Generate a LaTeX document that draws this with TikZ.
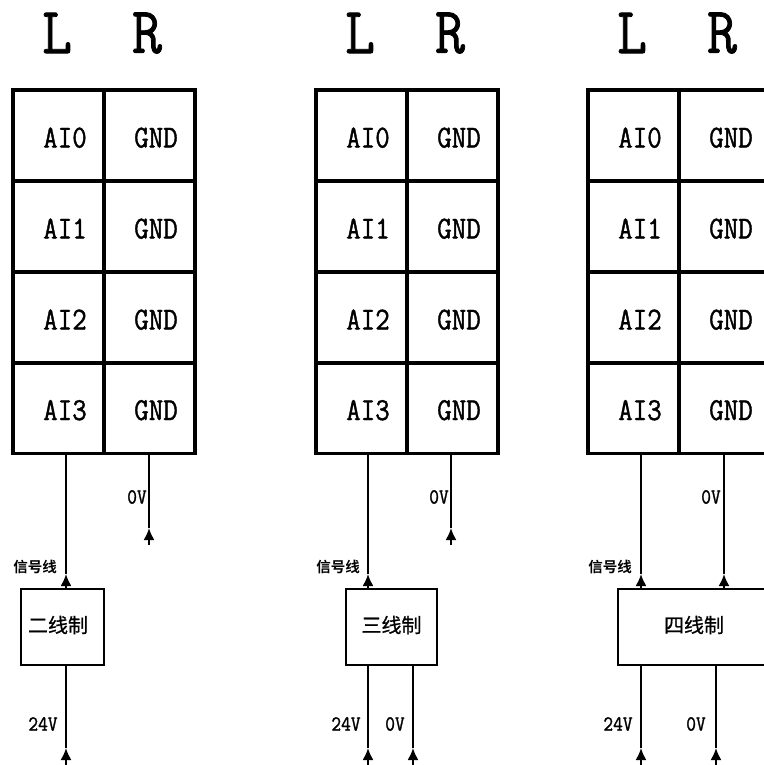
\documentclass[tikz,border=0pt]{standalone}
\usepackage{fontspec}
\setmonofont{Latin Modern Mono}[FakeBold=1.2, FakeStretch=0.88]
\newfontfamily\cjk{Noto Sans CJK SC}[BoldFont={Noto Sans CJK SC Bold}]
\newfontfamily\cjkbox{Noto Sans CJK SC}[FakeBold=0.7]
\usetikzlibrary{positioning,arrows.meta}

\tikzset{
    cell/.style={draw, line width=3.6pt, minimum width=91pt, minimum height=91pt, inner sep=0pt, outer sep=0pt,
        text height=24pt, text depth=0pt,
        font=\ttfamily\fontsize{32}{32}\selectfont, execute at begin node=\hspace*{13pt}},
    head/.style={font=\ttfamily\fontsize{66}{66}\selectfont, inner sep=0pt},
    volt/.style={font=\ttfamily\fontsize{21.5}{21.5}\selectfont, inner sep=0pt},
    sig/.style={font=\cjk\bfseries\fontsize{14.5}{14.5}\selectfont, inner sep=0pt},
    wirebox/.style={draw, line width=2pt, minimum height=76pt, inner sep=0pt, outer sep=0pt,
        text height=15pt, text depth=3.8pt,
        font=\cjkbox\fontsize{20}{20}\selectfont},
    wire/.style={line width=2pt}
}

\begin{document}
\begin{tikzpicture}[x=1pt, y=-1pt, >={Latex[length=12pt,width=11pt]}]
\useasboundingbox (0,0) rectangle (763,765);

% the three terminal blocks
\foreach \g/\x in {a/13, b/316, c/588} {
    \node[head] (L\g) at (\x+44,33) {L};
    \node[head] (R\g) at (\x+134,33) {R};
    \foreach \r/\y in {0/135.5, 1/226.5, 2/317.5, 3/408} {
        \node[cell] (AI\g\r) at (\x+45.5,\y) {AI\r};
        \node[cell] (GND\g\r) [right=0pt of AI\g\r] {GND};
    }
}

% transmitter boxes
\node[wirebox, minimum width=83pt] (boxa) at (62.5,627) {\hspace*{-9pt}二线制};
\node[wirebox, minimum width=91pt] (boxb) at (391.5,627) {三线制};
\node[wirebox, minimum width=152pt] (boxc) at (694,627) {四线制};

% arrow tips and free ends
\coordinate (siga) at (66,574);  \coordinate (sigb) at (368,574);  \coordinate (sigc) at (641,574);
\coordinate (zeroc) at (724,574);
\coordinate (tipa) at (149,528); \coordinate (enda) at (149,545);
\coordinate (tipb) at (451,528); \coordinate (endb) at (451,545);
\coordinate (pa) at (66,748);    \coordinate (pae) at (66,765);
\coordinate (pb) at (368,748);   \coordinate (pbe) at (368,765);
\coordinate (pc) at (641,748);   \coordinate (pce) at (641,765);
\coordinate (qb) at (413,748);   \coordinate (qbe) at (413,765);
\coordinate (qc) at (716,748);   \coordinate (qce) at (716,765);

% signal wires
\foreach \t/\g in {siga/a, sigb/b, sigc/c} {
    \draw[wire,->] (box\g.north -| \t) -- (\t);
    \draw[wire] (\t) -- (AI\g3.south -| \t);
}
\draw[wire,->] (boxc.north -| zeroc) -- (zeroc);
\draw[wire] (zeroc) -- (GNDc3.south -| zeroc);

% loose 0V wires
\foreach \t/\e/\g in {tipa/enda/a, tipb/endb/b} {
    \draw[wire,->] (\e) -- (\t);
    \draw[wire] (\t) -- (GND\g3.south -| \t);
}

% supply wires
\foreach \t/\e/\g in {pa/pae/a, pb/pbe/b, pc/pce/c, qb/qbe/b, qc/qce/c} {
    \draw[wire,->] (\e) -- (\t);
    \draw[wire] (\t) -- (box\g.south -| \t);
}

\node[sig] (xa) at (35,567) {信号线};
\node[sig] (xb) at (338,567) {信号线};
\node[sig] (xc) at (610,567) {信号线};

\node[volt] (va) at (137,497) {0V};
\node[volt] (vb) at (439,497) {0V};
\node[volt] (vc) at (711,497) {0V};

\node[volt] (sa) at (43,724) {24V};
\node[volt] (sb) at (346,724) {24V};
\node[volt] (sc) at (618,724) {24V};
\node[volt] (ob) at (395,724) {0V};
\node[volt] (oc) at (696,724) {0V};

\end{tikzpicture}
\end{document}
